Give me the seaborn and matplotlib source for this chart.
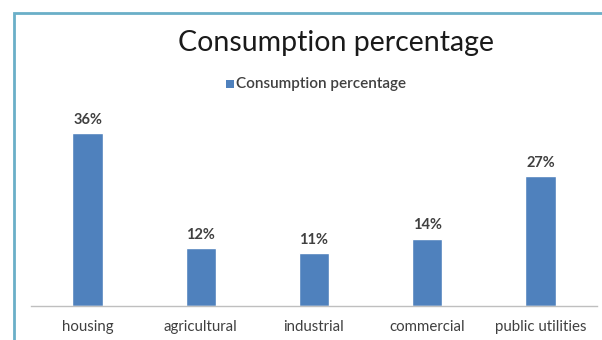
import matplotlib
matplotlib.use("Agg")
import matplotlib.pyplot as plt
import seaborn as sns
import pandas as pd
from matplotlib.patches import Rectangle

categories = ["housing", "agricultural", "industrial", "commercial", "public utilities"]
values = [36, 12, 11, 14, 27]
labels = ["36%", "12%", "11%", "14%", "27%"]
series_name = "Consumption percentage"

sns.set_theme(style="white")
plt.rcParams['font.family'] = ['Lato', 'DejaVu Sans']

df = pd.DataFrame({"category": categories, "value": values, "series": series_name})

fig = plt.figure(figsize=(6.02, 3.40), dpi=100)
fig.patch.set_facecolor("white")
ax = fig.add_axes([31/602, 34/340, (597-31)/602, (340-34-110)/340])

bar_color = "#4F81BD"
sns.barplot(data=df, x="category", y="value", hue="series", palette=[bar_color],
            width=0.27, ax=ax, legend=False, saturation=1)

ax.set_ylim(0, values[0] * (340-34-110) / (306-133))
ax.set_xlim(-0.5, len(categories) - 0.5)
for i, (v, lab) in enumerate(zip(values, labels)):
    ax.text(i, v + 1.3, lab, ha="center", va="bottom", fontsize=10.5, color="#404040", fontweight="bold")

ax.set_xlabel("")
ax.set_ylabel("")
ax.set_yticks([])
ax.tick_params(axis="x", labelsize=10.8, colors="#404040", length=0, pad=10)
for s in ["top", "right", "left"]:
    ax.spines[s].set_visible(False)
ax.spines["bottom"].set_color("#BFBFBF")
ax.spines["bottom"].set_linewidth(1.0)

# title and legend
fig.text(336/602, 1 - 43/340, "Consumption percentage", ha="center", va="center",
         fontsize=20.5, color="#1a1a1a")
fig.patches.append(Rectangle((226/602, 1 - 88/340), 8/602, 8/340, transform=fig.transFigure,
                             facecolor=bar_color, edgecolor="none"))
fig.text(236/602, 1 - 84/340, series_name, ha="left", va="center", fontsize=11, color="#404040",
         fontweight="semibold")

# frame border
fig.patches.append(Rectangle((14/602, -0.1), 1.2, 1 - 13/340 + 0.1, transform=fig.transFigure,
                             facecolor="none", edgecolor="#6AAFC8", linewidth=2))

fig.savefig("out.png", dpi=100)
